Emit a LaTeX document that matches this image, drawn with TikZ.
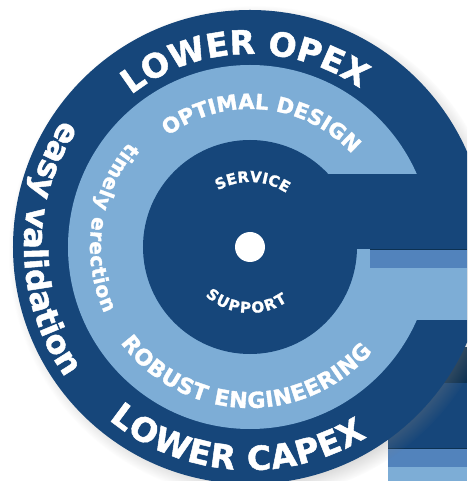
\documentclass[tikz,border=0pt]{standalone}
\usepackage{fontspec}
\setmainfont{DejaVu Sans}[BoldFeatures={FakeBold=1.5}]
\usetikzlibrary{decorations.text,shadows}
\definecolor{ringdark}{HTML}{16467A}
\definecolor{ringlight}{HTML}{7DADD6}
\definecolor{barmid}{HTML}{5283BC}
\definecolor{barnavy}{HTML}{0C3152}
\begin{document}
\begin{tikzpicture}[x=1pt,y=1pt,
  arctext/.style n args={2}{decorate,decoration={text along path,
    text align={fit to path},text color=white,
    text={|\fontsize{#1}{#1}\selectfont\bfseries|#2}}}]
% frame
\useasboundingbox (-250,-234) rectangle (217,247);
\clip (-250,-234) rectangle (217,247);
% stripes behind the disc
\fill[barnavy]   (138,-136) rectangle (217,-100);
\fill[ringdark]  (138,-201) rectangle (217,-136);
\fill[barnavy]   (138,-202) rectangle (217,-201);
\fill[barmid]    (138,-220) rectangle (217,-202);
\fill[ringlight] (138,-234) rectangle (217,-220);
% outer disc
\fill[ringdark,circular drop shadow={shadow xshift=5pt,shadow yshift=-5pt,
  shadow scale=1.04,opacity=.6}] (0,0) circle (237pt);
% light ring with its arm
\fill[ringlight] (0,0) circle (182pt);
\fill[ringlight] (100,-73) rectangle (217,-2);
\fill[ringdark]  (0,-2) rectangle (217,73);
% inner disc
\fill[ringdark] (0,0) circle (107pt);
\fill[barmid] (120,-21) rectangle (217,-2);
\draw[barnavy,line width=0.8pt] (120,-2) -- (217,-2);
% hub
\fill[white] (0,0) circle (15pt);
% outer ring texts
\path[arctext={33}{LOWER OPEX}] (128:193pt) arc[start angle=128,end angle=57,radius=193pt];
\path[arctext={33}{LOWER CAPEX}] (230.7:223pt) arc[start angle=230.7,end angle=301.6,radius=223pt];
\path[arctext={32}{easy validation}] (145.7:226pt) arc[start angle=145.7,end angle=214.3,radius=226pt];
% light ring texts
\path[arctext={21}{OPTIMAL DESIGN}] (126.5:138pt) arc[start angle=126.5,end angle=44,radius=138pt];
\path[arctext={22}{ROBUST ENGINEERING}] (216.5:161pt) arc[start angle=216.5,end angle=319.5,radius=161pt];
\path[arctext={20}{timely erection}] (139:160pt) arc[start angle=139,end angle=204.5,radius=160pt];
% inner texts
\path[arctext={15}{SERVICE}] (119.5:65pt) arc[start angle=119.5,end angle=56,radius=65pt];
\path[arctext={15}{SUPPORT}] (227.5:66pt) arc[start angle=227.5,end angle=304.5,radius=66pt];
\end{tikzpicture}
\end{document}
